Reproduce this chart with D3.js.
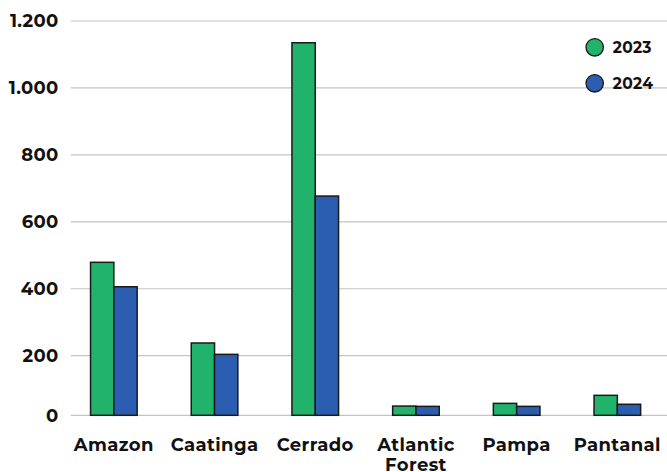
<!DOCTYPE html>
<html><head><meta charset="utf-8">
<script src="https://cdn.jsdelivr.net/npm/d3@7"></script>
<style>body{margin:0;background:#fff}text{font-family:"Montserrat","Inter","Noto Sans",sans-serif;font-weight:700;fill:#111}</style>
</head><body><svg id="c" width="667" height="472"></svg>
<script>
const categories = ["Amazon","Caatinga","Cerrado","Atlantic Forest","Pampa","Pantanal"];
const series = ["2023","2024"];
const values2023 = [479, 238, 1135, 31, 40, 67];
const values2024 = [406, 204, 677, 30, 30, 37];
const yTicks = [0,200,400,600,800,1000,1200];
const yTickLabels = ["0","200","400","600","800","1.000","1.200"];
const colors = ["#21b36b","#2b5eb0"];

const svg = d3.select("#c");
const y = d3.scaleLinear().domain([0,200,1200]).range([415.3,355.7,21]);
const x0 = d3.scaleBand().domain(categories).range([63.5,667.7]).padding(0);
const x1 = d3.scaleBand().domain(series).range([0,x0.bandwidth()]).paddingInner(0).paddingOuter(1.161);

// gridlines
svg.append("g").selectAll("line").data(yTicks).join("line")
  .attr("x1",70.7).attr("x2",667).attr("y1",d=>y(d)).attr("y2",d=>y(d))
  .attr("stroke","#c4c4c4").attr("stroke-width",1.2);
svg.append("g").selectAll("text").data(yTicks).join("text")
  .attr("x",58.5).attr("y",d=>y(d)).attr("dy","0.36em").attr("text-anchor","end")
  .attr("font-size",18).attr("letter-spacing",0.3).text((d,i)=>yTickLabels[i]);

const data = categories.map((c,i)=>({c, vals:[values2023[i],values2024[i]]}));
const g = svg.append("g").selectAll("g").data(data).join("g")
  .attr("transform",d=>`translate(${x0(d.c)},0)`);
g.selectAll("rect").data(d=>d.vals.map((v,j)=>({s:series[j],v,j}))).join("rect")
  .attr("x",d=>x1(d.s)).attr("width",x1.bandwidth())
  .attr("y",d=>y(d.v)).attr("height",d=>y(0)-y(d.v))
  .attr("fill",d=>colors[d.j]).attr("stroke","#1a1a1a").attr("stroke-width",1.5);

// category labels
const lab = svg.append("g").selectAll("text").data(categories).join("text")
  .attr("x",d=>x0(d)+x0.bandwidth()/2).attr("y",451).attr("text-anchor","middle")
  .attr("font-size",18).attr("letter-spacing",0.4);
lab.each(function(d){
  const words = d.split(" ");
  const t = d3.select(this);
  if (words.length>1){
    words.forEach((w,i)=>t.append("tspan").attr("x",x0(d)+x0.bandwidth()/2).attr("dy",i?19.5:0).text(w));
  } else t.text(d);
});

// legend
const leg = svg.append("g").selectAll("g").data(series).join("g")
  .attr("transform",(d,i)=>`translate(594.7,${47.3+i*36})`);
leg.append("circle").attr("r",8.7).attr("fill",(d,i)=>colors[i]).attr("stroke","#1a1a1a").attr("stroke-width",1.3);
leg.append("text").attr("x",18).attr("dy","0.36em").attr("font-size",15.5).attr("letter-spacing",0.3).text(d=>d);
</script></body></html>
